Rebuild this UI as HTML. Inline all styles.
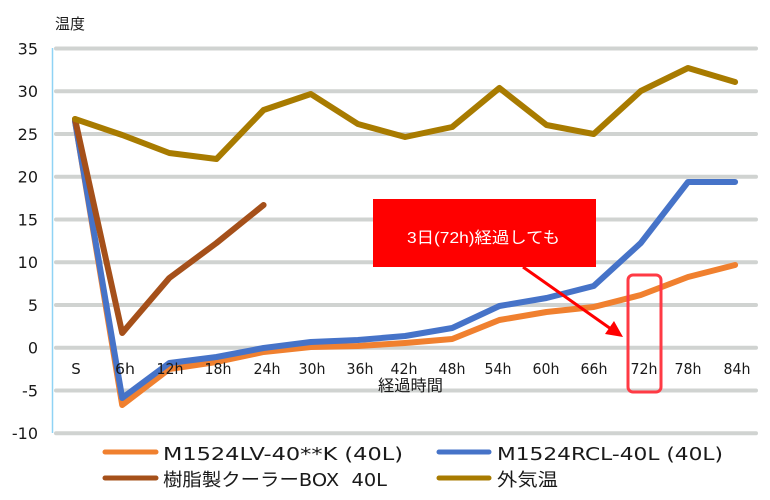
<!DOCTYPE html>
<html><head><meta charset="utf-8"><style>
html,body{margin:0;padding:0;background:#fff;}
svg{display:block;}
text{font-family:"DejaVu Sans","Noto Sans CJK JP",sans-serif;fill:#1a1a1a;}
.cj{font-family:"Liberation Sans","Noto Sans CJK JP",sans-serif;}
</style></head><body>
<svg width="770" height="500" viewBox="0 0 770 500" xmlns="http://www.w3.org/2000/svg">
<rect width="770" height="500" fill="#fff"/>
<!-- gridlines -->
<g stroke="#d0d3d1" stroke-width="4" stroke-linecap="round">
<line x1="56" y1="48.5" x2="756" y2="48.5"/>
<line x1="56" y1="91.2" x2="756" y2="91.2"/>
<line x1="56" y1="134" x2="756" y2="134"/>
<line x1="56" y1="176.7" x2="756" y2="176.7"/>
<line x1="56" y1="219.5" x2="756" y2="219.5"/>
<line x1="56" y1="262.2" x2="756" y2="262.2"/>
<line x1="56" y1="305" x2="756" y2="305"/>
<line x1="56" y1="347.7" x2="756" y2="347.7"/>
<line x1="56" y1="390.5" x2="756" y2="390.5"/>
<line x1="56" y1="433.2" x2="756" y2="433.2"/>
</g>
<line x1="52.5" y1="48" x2="52.5" y2="433" stroke="#8fd3f5" stroke-width="1.5"/>
<!-- y labels -->
<g font-size="16" text-anchor="end">
<text x="38" y="54.5">35</text>
<text x="38" y="97.2">30</text>
<text x="38" y="140">25</text>
<text x="38" y="182.7">20</text>
<text x="38" y="225.5">15</text>
<text x="38" y="268.2">10</text>
<text x="38" y="311">5</text>
<text x="38" y="353.7">0</text>
<text x="38" y="396.5">-5</text>
<text x="38" y="439.2">-10</text>
</g>
<text class="cj" x="55" y="29" font-size="15">温度</text>
<!-- series -->
<g fill="none" stroke-width="6" stroke-linejoin="round" stroke-linecap="round">
<polyline stroke="#f0802f" points="75,121 122.2,405 169.3,369 216.5,362 263.6,352 310.8,347 357.9,346 405.1,343 452.2,339 499.4,320 546.5,312 593.7,307 640.8,295 688,277 735.1,265"/>
<polyline stroke="#4673c8" points="75,121 122.2,398 169.3,363 216.5,357 263.6,348 310.8,342 357.9,340 405.1,336 452.2,328 499.4,306 546.5,298 593.7,286 640.8,243 688,182 735.1,182"/>
<polyline stroke="#a5501a" points="75,119 122.2,333 169.3,278 216.5,243 263.6,205"/>
<polyline stroke="#a87b00" points="75,119 122.2,135 169.3,153 216.5,159 263.6,110 310.8,94 357.9,124 405.1,137 452.2,127 499.4,88 546.5,125 593.7,134 640.8,91 688,68 735.1,82"/>
</g>
<!-- x labels (drawn above series) -->
<g font-size="15" text-anchor="middle">
<text x="76" y="374">S</text>
<text x="125" y="374" textLength="20" lengthAdjust="spacingAndGlyphs">6h</text>
<text x="170" y="374" textLength="27" lengthAdjust="spacingAndGlyphs">12h</text>
<text x="218" y="374" textLength="27" lengthAdjust="spacingAndGlyphs">18h</text>
<text x="267" y="374" textLength="27" lengthAdjust="spacingAndGlyphs">24h</text>
<text x="312" y="374" textLength="27" lengthAdjust="spacingAndGlyphs">30h</text>
<text x="360" y="374" textLength="27" lengthAdjust="spacingAndGlyphs">36h</text>
<text x="404" y="374" textLength="27" lengthAdjust="spacingAndGlyphs">42h</text>
<text x="452" y="374" textLength="27" lengthAdjust="spacingAndGlyphs">48h</text>
<text x="498" y="374" textLength="27" lengthAdjust="spacingAndGlyphs">54h</text>
<text x="546" y="374" textLength="27" lengthAdjust="spacingAndGlyphs">60h</text>
<text x="594" y="374" textLength="27" lengthAdjust="spacingAndGlyphs">66h</text>
<text x="644" y="374" textLength="27" lengthAdjust="spacingAndGlyphs">72h</text>
<text x="688" y="374" textLength="27" lengthAdjust="spacingAndGlyphs">78h</text>
<text x="737" y="374" textLength="27" lengthAdjust="spacingAndGlyphs">84h</text>
</g>
<text class="cj" x="378" y="391" font-size="16" textLength="65" lengthAdjust="spacingAndGlyphs">経過時間</text>
<!-- annotation -->
<rect x="373" y="199" width="223" height="68" fill="#ff0000"/>
<text class="cj" x="407" y="243" font-size="16" style="fill:#fff" textLength="153" lengthAdjust="spacingAndGlyphs">3日(72h)経過しても</text>
<line x1="523" y1="267" x2="611" y2="329" stroke="#ff0000" stroke-width="3"/>
<polygon points="623,337 605,334 614,321" fill="#ff0000"/>
<rect x="628" y="275" width="33" height="117" rx="5" ry="5" fill="none" stroke="#ff3a44" stroke-width="3"/>
<!-- legend -->
<g stroke-width="5" stroke-linecap="round">
<line x1="105" y1="452" x2="156" y2="452" stroke="#f0802f"/>
<line x1="105" y1="478" x2="156" y2="478" stroke="#a5501a"/>
<line x1="439" y1="452" x2="489" y2="452" stroke="#4673c8"/>
<line x1="439" y1="478" x2="489" y2="478" stroke="#a87b00"/>
</g>
<g font-size="18">
<text x="163" y="460" textLength="240" lengthAdjust="spacingAndGlyphs">M1524LV-40**K (40L)</text>
<text x="163" y="486" textLength="224" lengthAdjust="spacingAndGlyphs" xml:space="preserve">樹脂製クーラーBOX  40L</text>
<text x="497" y="460" textLength="226" lengthAdjust="spacingAndGlyphs">M1524RCL-40L (40L)</text>
<text x="497" y="486" textLength="61" lengthAdjust="spacingAndGlyphs">外気温</text>
</g>
</svg>
</body></html>
